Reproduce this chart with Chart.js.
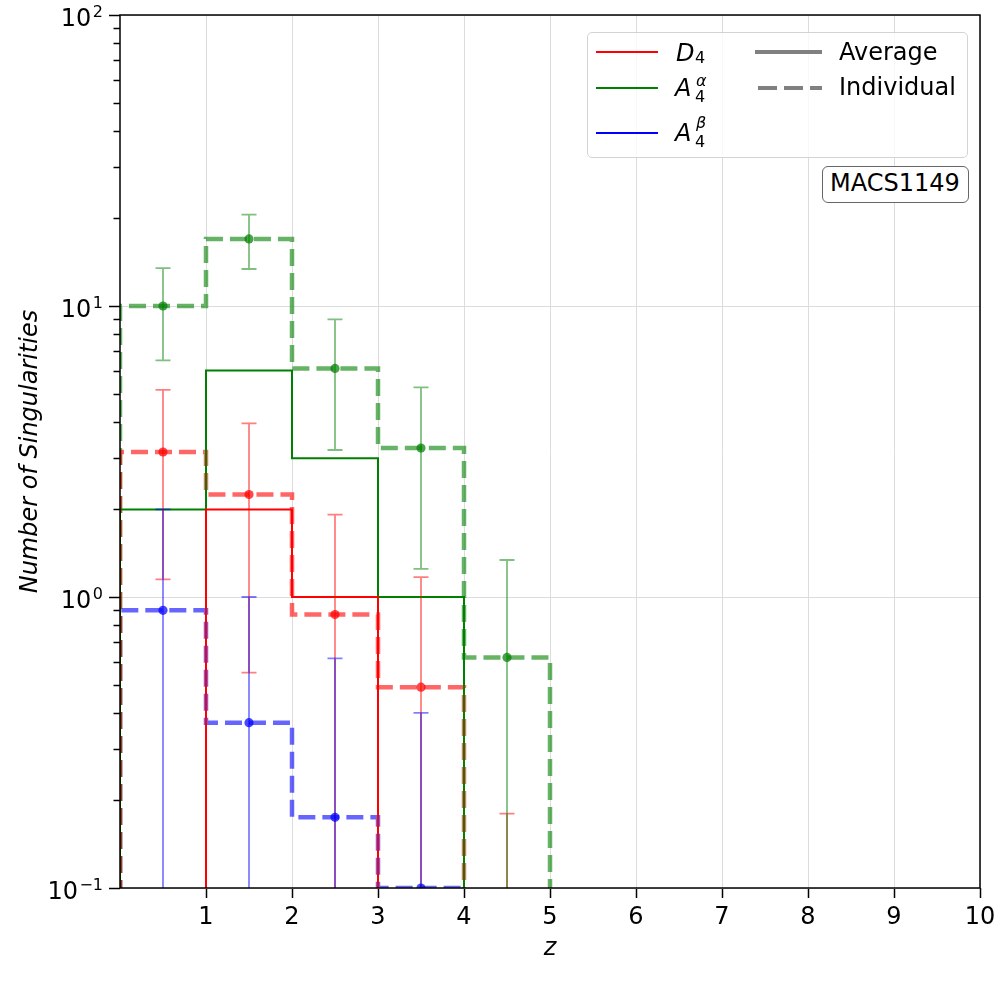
<!DOCTYPE html>
<html>
<head>
<meta charset="utf-8">
<script src="https://cdn.jsdelivr.net/npm/chart.js@4.4.0/dist/chart.umd.min.js"></script>
<style>
html, body { margin: 0; padding: 0; background: #fff; }
#wrap { position: relative; width: 1000px; height: 1000px; font-family: "DejaVu Sans", sans-serif; overflow: hidden; }
#c { position: absolute; left: 0; top: 0; }
.t { position: absolute; white-space: nowrap; line-height: 1; color: #000; font-family: "DejaVu Sans", sans-serif; }
.bx { position: absolute; box-sizing: border-box; }
</style>
</head>
<body>
<div id="wrap"><canvas id="c" width="1000" height="1000"></canvas></div>
<script>
// ---------------- data ----------------
const binEdges = [0, 1, 2, 3, 4, 5];
const binCenters = [0.5, 1.5, 2.5, 3.5, 4.5];

const d4Individual    = [3.15, 2.25, 0.87, 0.49, 0];
const d4IndividualErr = [2.0, 1.7, 1.05, 0.68, 0.18];
const d4Average       = [0, 2, 1, 0, 0];

const a4aIndividual    = [10.0, 17.0, 6.1, 3.25, 0.62];
const a4aIndividualErr = [3.5, 3.6, 2.9, 2.0, 0.72];
const a4aAverage       = [2, 6, 3, 1, 0];

const a4bIndividual    = [0.9, 0.37, 0.175, 0.1, 0];
const a4bIndividualErr = [1.1, 0.63, 0.44, 0.3, 0];
const a4bAverage       = [0, 0, 0, 0, 0];

const xTickValues = [1, 2, 3, 4, 5, 6, 7, 8, 9, 10];
const yDecadeExponents = [-1, 0, 1, 2];
const xTitle = 'z';
const yTitle = 'Number of Singularities';
const clusterName = 'MACS1149';

// ---------------- styles ----------------
const FLOOR = 1e-4;
const series = [
  { rgb: '255,0,0',  ind: d4Individual,  err: d4IndividualErr,  avg: d4Average },
  { rgb: '0,128,0',  ind: a4aIndividual, err: a4aIndividualErr, avg: a4aAverage },
  { rgb: '0,0,255',  ind: a4bIndividual, err: a4bIndividualErr, avg: a4bAverage }
];

function stepPoints(vals) {
  const pts = [{ x: binEdges[0], y: FLOOR }];
  vals.forEach((v, i) => pts.push({ x: binEdges[i], y: v > 0 ? v : FLOOR }));
  pts.push({ x: binEdges[vals.length], y: FLOOR });
  return pts;
}

const datasets = [];
series.forEach(s => {
  datasets.push({
    type: 'line', data: stepPoints(s.ind), stepped: 'before',
    borderColor: `rgba(${s.rgb},0.6)`, borderWidth: 4.5, borderDash: [17, 7],
    pointRadius: 0, fill: false, clip: 0, order: 3
  });
});
series.forEach(s => {
  datasets.push({
    type: 'line', data: stepPoints(s.avg), stepped: 'before',
    borderColor: `rgb(${s.rgb})`, borderWidth: 2,
    pointRadius: 0, fill: false, clip: 0, order: 2
  });
});
series.forEach(s => {
  const pts = [];
  binCenters.forEach((x, i) => { if (s.ind[i] > 0) pts.push({ x: x, y: s.ind[i] }); });
  datasets.push({
    type: 'scatter', data: pts, showLine: false,
    pointRadius: 4.6, pointBackgroundColor: `rgba(${s.rgb},0.72)`, pointBorderWidth: 0,
    order: 1
  });
});

function isMajor(v) {
  if (!(v > 0)) return false;
  const l = Math.log10(v);
  return Math.abs(l - Math.round(l)) < 1e-9;
}

const errorBarPlugin = {
  id: 'errbars',
  beforeDatasetsDraw(chart) { chart.$errDone = false; },
  beforeDatasetDraw(chart, args) {
    if (chart.$errDone) return;
    if (chart.data.datasets[args.index].type !== 'scatter') return;
    chart.$errDone = true;
    const ctx = chart.ctx, xs = chart.scales.x, ys = chart.scales.y, a = chart.chartArea;
    ctx.save();
    ctx.beginPath();
    ctx.rect(a.left, a.top, a.right - a.left, a.bottom - a.top);
    ctx.clip();
    ctx.lineWidth = 1.8;
    series.forEach(s => {
      ctx.strokeStyle = `rgba(${s.rgb},0.5)`;
      binCenters.forEach((x, i) => {
        const v = s.ind[i], e = s.err[i];
        if (!(e > 0)) return;
        const hi = v + e;
        const lo = v - e > 0 ? v - e : FLOOR;
        const px = xs.getPixelForValue(x);
        const pyHi = ys.getPixelForValue(hi);
        const pyLo = ys.getPixelForValue(lo);
        ctx.beginPath();
        ctx.moveTo(px, pyHi); ctx.lineTo(px, pyLo);
        ctx.moveTo(px - 7.5, pyHi); ctx.lineTo(px + 7.5, pyHi);
        ctx.moveTo(px - 7.5, pyLo); ctx.lineTo(px + 7.5, pyLo);
        ctx.stroke();
      });
    });
    ctx.restore();
  }
};

const framePlugin = {
  id: 'frame',
  afterDraw(chart) {
    const ctx = chart.ctx, a = chart.chartArea, ys = chart.scales.y;
    ctx.save();
    ctx.strokeStyle = '#000';
    ctx.lineWidth = 1.5;
    ys.ticks.forEach(t => {
      if (isMajor(t.value)) return;
      const py = Math.round(ys.getPixelForValue(t.value)) + 0.5;
      ctx.beginPath();
      ctx.moveTo(a.left - 6.5, py);
      ctx.lineTo(a.left, py);
      ctx.stroke();
    });
    ctx.strokeRect(a.left, a.top, a.right - a.left, a.bottom - a.top);
    // y tick labels as 10^e (base + raised exponent)
    ctx.fillStyle = '#000';
    ctx.textBaseline = 'alphabetic';
    ctx.textAlign = 'left';
    const right = a.left - 17;
    yDecadeExponents.forEach(e => {
      const py = ys.getPixelForValue(Math.pow(10, e));
      const expTxt = e < 0 ? '\u2212' + Math.abs(e) : String(e);
      ctx.font = '16px "DejaVu Sans", sans-serif';
      const ew = ctx.measureText(expTxt).width;
      ctx.font = '24px "DejaVu Sans", sans-serif';
      const bw = ctx.measureText('10').width;
      const ex = right - ew;
      ctx.fillText('10', ex - 1.5 - bw, py + 11);
      ctx.font = '16px "DejaVu Sans", sans-serif';
      ctx.fillText(expTxt, ex, py + 2);
    });
    ctx.restore();
  }
};

Chart.defaults.font.family = '"DejaVu Sans", sans-serif';
Chart.defaults.color = '#000';

new Chart(document.getElementById('c'), {
  type: 'line',
  data: { datasets: datasets },
  options: {
    responsive: false,
    animation: false,
    devicePixelRatio: 1,
    layout: { padding: { top: 15, right: 20, left: 0, bottom: 0 } },
    plugins: { legend: { display: false }, tooltip: { enabled: false } },
    scales: {
      x: {
        type: 'linear', min: 0, max: 10,
        afterBuildTicks: sc => { sc.ticks = xTickValues.map(v => ({ value: v })); },
        afterFit: sc => { sc.height = 112; sc.paddingLeft = 0; sc.paddingRight = 0; },
        ticks: { font: { size: 24 }, padding: 5, maxRotation: 0, autoSkip: false, color: '#000',
                 callback: v => String(v) },
        grid: { color: '#dcdcdc', lineWidth: 1, tickColor: '#000', tickLength: 10, tickWidth: 1.5 },
        border: { display: false },
        title: { display: true, text: xTitle, font: { size: 24, style: 'italic' }, color: '#000',
                 padding: { top: 0, bottom: 37 } }
      },
      y: {
        type: 'logarithmic', min: 0.1, max: 100,
        afterBuildTicks: sc => {
          const t = [];
          yDecadeExponents.forEach((e, k) => {
            const p = Math.pow(10, e);
            if (k === yDecadeExponents.length - 1) { t.push({ value: p }); return; }
            for (let m = 1; m <= 9; m++) t.push({ value: parseFloat((m * p).toPrecision(6)) });
          });
          sc.ticks = t;
        },
        afterFit: sc => { sc.width = 120; sc.paddingTop = 0; sc.paddingBottom = 0; },
        ticks: { display: false, autoSkip: false },
        grid: {
          color: c => (c.tick && isMajor(c.tick.value)) ? '#dcdcdc' : 'rgba(0,0,0,0)',
          tickColor: c => (c.tick && isMajor(c.tick.value)) ? '#000' : 'rgba(0,0,0,0)',
          lineWidth: 1, tickLength: 11, tickWidth: 1.5
        },
        border: { display: false },
        title: { display: true, text: yTitle, font: { size: 24, style: 'italic' }, color: '#000',
                 padding: { top: 16, bottom: 0 } }
      }
    }
  },
  plugins: [errorBarPlugin, framePlugin]
});

// ---------------- legend & annotation (HTML text) ----------------
const wrap = document.getElementById('wrap');
function addBox(l, t, w, h, css) {
  const d = document.createElement('div');
  d.className = 'bx';
  d.style.left = l + 'px'; d.style.top = t + 'px';
  d.style.width = w + 'px'; d.style.height = h + 'px';
  Object.assign(d.style, css);
  wrap.appendChild(d);
  return d;
}
function addText(txt, x, baseline, size, italic) {
  const s = document.createElement('span');
  s.className = 't';
  s.textContent = txt;
  s.style.left = x + 'px';
  s.style.top = (baseline - 0.846 * size) + 'px';
  s.style.fontSize = size + 'px';
  if (italic) s.style.fontStyle = 'italic';
  wrap.appendChild(s);
}

addBox(587, 32, 381, 126, { border: '1px solid #d3d3d3', borderRadius: '5px', background: 'rgba(255,255,255,0.8)' });
// sample lines
addBox(596, 51, 62, 1.6, { background: 'rgb(255,0,0)' });
addBox(596, 87.3, 62, 1.6, { background: 'rgb(0,128,0)' });
addBox(596, 132.3, 62, 1.6, { background: 'rgb(0,0,255)' });
addBox(755, 50, 67, 4.2, { background: '#808080' });
addBox(758, 86, 64, 4.2, { background: 'repeating-linear-gradient(to right, #808080 0 19px, rgba(0,0,0,0) 19px 26px)' });
// labels
addText('D', 676, 61, 24, true);
addText('4', 695, 63.5, 16, false);
addText('A', 675, 96.5, 24, true);
addText('\u03B1', 696, 87, 16, true);
addText('4', 695, 102.5, 16, false);
addText('A', 675, 141.5, 24, true);
addText('\u03B2', 696, 128.5, 16, true);
addText('4', 695, 147.5, 16, false);
addText('Average', 839, 60.5, 24, false);
addText('Individual', 839, 95.5, 24, false);
// cluster annotation
addBox(822, 166, 147, 37, { border: '1.3px solid #666', borderRadius: '6px', background: '#fff' });
addText(clusterName, 830, 191.5, 24, false);
</script>
</body>
</html>
